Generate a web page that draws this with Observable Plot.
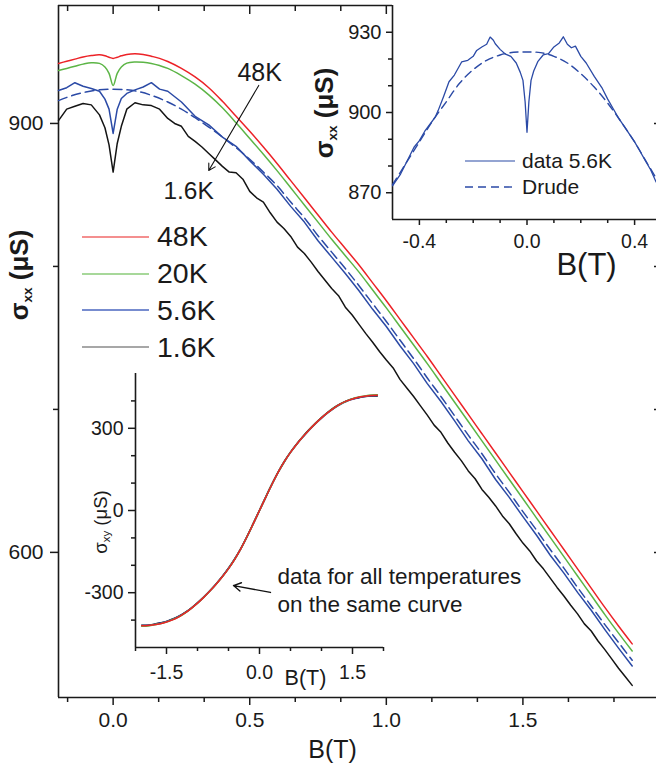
<!DOCTYPE html>
<html>
<head>
<meta charset="utf-8">
<script src="https://cdn.jsdelivr.net/npm/d3@7"></script>
<script src="https://cdn.jsdelivr.net/npm/@observablehq/plot@0.6"></script>
<style>
html, body { margin:0; padding:0; background:#fff; overflow:hidden; }
#wrap { position:relative; width:656px; height:769px; overflow:hidden; font-family:"Liberation Sans", Arial, Helvetica, sans-serif; color:#1a1a1a; }
.layer { position:absolute; }
.rot { position:absolute; transform: translate(-50%,-50%) rotate(-90deg); white-space:nowrap; line-height:1; }
.leg { position:absolute; }
.leg .row { display:flex; align-items:center; white-space:nowrap; }
.leg svg { display:block; }
</style>
</head>
<body>
<div id="wrap"></div>
<script>
// ---------------- data ----------------
const temps = ["48K", "20K", "5.6K", "1.6K"];

// main panel: sigma_xx (uS) vs B (T)
const B_main = [-0.2,-0.17,-0.14,-0.11,-0.08,-0.05,-0.03,-0.015,0,0.015,0.03,0.05,0.08,0.11,0.14,0.17,0.2,
  0.25,0.3,0.35,0.4,0.45,0.5,0.55,0.6,0.65,0.7,0.75,0.8,0.85,0.9,0.95,1.0,1.05,1.1,1.15,1.2,1.25,1.3,1.35,1.4,1.45,1.5,1.55,1.6,1.65,1.7,1.75,1.8,1.85,1.9];
const s48 = [942,943.5,945,946.5,947.5,948,947.3,946.3,945.5,946.3,947.3,948.3,948.8,948.3,947,945.5,943.3,
  938.5,932.5,925,915.5,905,894.5,883.5,872,860,848,836,824,812.5,801,788.5,776,763,750,737,723.5,710,696.5,683,669.5,656,642.5,629,615.5,602,588.5,575,561.5,548.5,536];
const s20 = [937,938.5,940,941.5,942.5,942,939.5,935,926.5,935,939.5,942.2,943,942.8,942,940.5,938.5,
  933.5,927.5,920,911,900.5,889.5,878.5,867,855,843,831,819,807.5,796,783.5,771,758,745,732,718.5,705,691.5,678,664.5,651,637.5,624,610.5,597,583.5,570,556.5,543.5,531];
const s56 = [923,925,928.5,926,924.5,922.5,917,910,893,910,917.5,921,923.5,925.5,928.5,924,922.5,
  915,905,899,890.5,884,874,864.5,854,842,831,818,806.5,795,783,770,758,744.5,732,718,705.5,692,678,665.5,651,638.5,625,612,598,585.5,572,559.5,546,533,520.5];
const B_black = [-0.2,-0.17,-0.14,-0.11,-0.08,-0.05,-0.03,-0.015,0,0.015,0.03,0.05,0.08,0.11,0.14,0.17,0.2,
  0.225,0.25,0.275,0.3,0.325,0.35,0.375,0.4,0.425,0.45,0.475,0.5,
  0.525,0.55,0.575,0.6,0.625,0.65,0.675,0.7,0.725,0.75,0.775,0.8,
  0.825,0.85,0.875,0.9,0.925,0.95,0.975,1.0,1.025,1.05,1.075,1.1,
  1.125,1.15,1.175,1.2,1.225,1.25,1.275,1.3,1.325,1.35,1.375,1.4,
  1.425,1.45,1.475,1.5,1.525,1.55,1.575,1.6,1.625,1.65,1.675,1.7,
  1.725,1.75,1.775,1.8,1.825,1.85,1.875,1.9];
const s16 = [902,910,912,914,913,906,897,885,866,886,898,910,914.5,913,912.5,910,903.5,
  900,898,891,887.5,883.5,879,874.5,870,866,865.5,861,852.5,
  848,845,837.5,831,826.5,821,813.5,809,803,796.5,790.5,784.5,
  779.5,771.5,766,759.5,753,747,740.5,734.5,729,721,715,709,
  702.5,696,689,684,676.5,670,664,657,651.5,644,638.5,632.5,
  625.5,620,613,606.5,601,594,588.5,582,575.5,569.5,563,557,
  550,545,538,532,525.5,519,513,507];
const B_drude = [-0.2,-0.15,-0.1,-0.05,0,0.05,0.1,0.15,0.2,0.25,0.3,0.35,0.4,0.45,0.5,0.55,0.6,0.65,0.7,0.75,0.8,0.85,0.9,0.95,1.0,1.05,1.1,1.15,1.2,1.25,1.3,1.35,1.4,1.45,1.5,1.55,1.6,1.65,1.7,1.75,1.8,1.85,1.9];
const sDrude = [916,919.5,922,923.5,924,923.5,922,919,915,910,904,897.5,890.5,883,875,866,856.5,845,834,821.5,810,798.5,786.5,774,761.5,748.5,735.5,722,709,695.5,682,669,655,642,628.5,615.5,602,589,575.5,562.5,549.5,537,524.5];

// upper-right inset: 5.6K data and Drude fit
const B_in = [-0.5,-0.47,-0.44,-0.42,-0.4,-0.38,-0.36,-0.34,-0.33,-0.31,-0.29,-0.27,-0.243,-0.22,-0.2,-0.187,-0.168,-0.15,-0.137,-0.125,
  -0.118,-0.1,-0.08,-0.06,-0.04,-0.025,-0.015,-0.007,0,0.007,0.015,0.025,0.04,0.06,0.08,0.1,0.12,0.135,0.15,0.165,
  0.18,0.2,0.22,0.25,0.28,0.3,0.32,0.34,0.36,0.38,0.4,0.42,0.44,0.46,0.48];
const s_in = [872.6,877,883,887,889.5,893,895.7,898.5,900.8,906,911.5,914,918.9,919.5,921,923.2,924.5,925.5,928.2,927,
  925.7,923.6,921.8,921,918.5,915,912,904,892.6,904,912,915.5,919,921.5,922,924.5,926,928.3,925.5,924.2,
  924.8,921,918.5,913.5,909,905,901.5,898,895,892,889,885.5,882,878.5,874];
const B_inDrude = [-0.5,-0.45,-0.4,-0.35,-0.3,-0.25,-0.2,-0.15,-0.1,-0.05,0,0.05,0.1,0.15,0.2,0.25,0.3,0.35,0.4,0.45,0.48];
const s_inDrude = [873,881,889,897,904,911,916,919.5,921.5,922.5,922.6,922.4,921,918.5,914.5,909.5,903.5,896.5,889,880.5,875.5];

// lower inset: sigma_xy (uS) vs B (T)
const B_hall = [-1.9,-1.8,-1.7,-1.6,-1.5,-1.4,-1.3,-1.2,-1.1,-1.0,-0.9,-0.8,-0.7,-0.6,-0.5,-0.4,-0.3,-0.2,-0.1,0,
  0.1,0.2,0.3,0.4,0.5,0.6,0.7,0.8,0.9,1.0,1.1,1.2,1.3,1.4,1.5,1.6,1.7,1.8,1.9];
const hall48 = [-421,-420,-417,-413,-407,-399,-388,-374,-357,-338,-317,-294,-269,-242,-212,-178,-139,-95,-48,0,48,95,139,178,212,242,269,294,317,338,357,374,388,399,407,413,417,420,421];
const hall20 = [-422,-421,-417,-413,-407,-398,-388,-374,-357,-338,-317,-294,-269,-242,-212,-178,-139,-95,-48,0,48,95,139,178,212,242,269,294,317,338,357,374,388,399,408,414,418,421,422];
const hall56 = [-420,-419,-416,-411,-405,-397,-386,-373,-356,-337,-316,-293,-268,-241,-211,-177,-139,-95,-48,0,48,95,139,178,212,242,268,293,316,337,356,373,387,398,406,412,416,419,420];
const hall16 = [-419,-419,-415,-410,-405,-396,-386,-372,-356,-337,-316,-293,-268,-241,-211,-177,-138,-94,-47,1,49,96,140,179,213,243,270,295,318,339,358,375,389,400,408,412,416,418,418];

// axes / ticks
const xMainDomain = [-0.2, 2.0];
const yMainDomain = [498.5, 982.5];
const insetEdgeB = 1.0227;              // where the upper inset begins, in main-panel B units
const mainXMajor = [0, 0.5, 1.0, 1.5];
const mainXMinor = [-1/6, 1/6, 1/3, 2/3, 5/6, 7/6, 4/3, 5/3, 11/6];
const mainYMajor = [900, 600];
const mainYMinor = [800, 700];
const inXDomain = [-0.5, 0.5];
const inYDomain = [860, 940];
const inXMajor = [-0.4, 0, 0.4];
const inXMinor = [-0.3, -0.2, -0.1, 0.1, 0.2, 0.3];
const inYMajor = [930, 900, 870];
const inYMinor = [920, 910, 890, 880];
const hXDomain = [-2, 2];
const hYDomain = [-500, 500];
const hXMajor = [-1.5, 0, 1.5];
const hXMinor = [-2, -1, -0.5, 0.5, 1, 2];
const hYMajor = [-300, 0, 300];
const hYMinor = [-400, -200, -100, 100, 200, 400];

// annotations (data units)
const ann48 = {x: 0.455, y: 930, text: "48K"};
const ann16 = {x: 0.184, y: 847.5, text: "1.6K"};
const annArrow = [{x1: 0.533, y1: 926.6, x2: 0.350, y2: 867.1}];
const hallNote = [{x: 0.29, y: -267, text: "data for all temperatures"}, {x: 0.29, y: -369, text: "on the same curve"}];
const hallArrow = [{x1: 0.177, y1: -299, x2: -0.419, y2: -274}];

// ---------------- drawing ----------------
const FONT = '"Liberation Sans", Arial, Helvetica, sans-serif';
const colors = {"48K": "#ec2227", "20K": "#5cb546", "5.6K": "#2b4aa6", "1.6K": "#141414"};
const legendColors = {"48K": "#f06a6a", "20K": "#8acb78", "5.6K": "#4a66bf", "1.6K": "#8a8a8a"};
const pts = (xs, ys) => xs.map((x, i) => ({x, y: ys[i]}));
const fmt1 = d => d.toFixed(1);
const fmt0 = d => String(d);
const blank = () => "";
const wrap = document.getElementById("wrap");
function addLayer(node, left, top) {
  const d = document.createElement("div");
  d.className = "layer"; d.style.left = left + "px"; d.style.top = top + "px";
  d.appendChild(node); wrap.appendChild(d); return d;
}
const baseStyle = {fontFamily: FONT, background: "none", overflow: "visible", color: "#1a1a1a"};

const mainPlot = Plot.plot({
  width: 656, height: 769,
  marginLeft: 58, marginRight: -3, marginTop: 5, marginBottom: 72,
  x: {domain: xMainDomain, label: null},
  y: {domain: yMainDomain, label: null},
  style: baseStyle,
  marks: [
    Plot.axisX(mainXMajor, {anchor: "bottom", tickSize: 8, tickPadding: 7, tickFormat: fmt1, fontSize: 21, strokeWidth: 1.5, label: null}),
    Plot.axisX(mainXMinor, {anchor: "bottom", tickSize: 5, tickFormat: blank, strokeWidth: 1.5, label: null}),
    Plot.axisX(mainXMajor.filter(d => d < insetEdgeB), {anchor: "top", tickSize: -8, tickFormat: blank, strokeWidth: 1.5, label: null}),
    Plot.axisX(mainXMinor.filter(d => d < insetEdgeB), {anchor: "top", tickSize: -5, tickFormat: blank, strokeWidth: 1.5, label: null}),
    Plot.axisY(mainYMajor, {anchor: "left", tickSize: 8, tickPadding: 7, tickFormat: fmt0, fontSize: 21, strokeWidth: 1.5, label: null}),
    Plot.axisY(mainYMinor, {anchor: "left", tickSize: 5, tickFormat: blank, strokeWidth: 1.5, label: null}),
    Plot.axisY(mainYMajor.concat(mainYMinor), {anchor: "right", tickSize: -6, tickFormat: blank, strokeWidth: 1.5, label: null}),
    Plot.ruleX([xMainDomain[0]], {strokeWidth: 1.6}),
    Plot.ruleY([yMainDomain[0]], {strokeWidth: 1.6}),
    Plot.ruleY([yMainDomain[1]], {x1: xMainDomain[0], x2: insetEdgeB, strokeWidth: 1.6}),
    Plot.line(pts(B_black, s16), {x: "x", y: "y", stroke: colors["1.6K"], strokeWidth: 1.5}),
    Plot.line(pts(B_main, s56), {x: "x", y: "y", stroke: colors["5.6K"], strokeWidth: 1.5}),
    Plot.line(pts(B_drude, sDrude), {x: "x", y: "y", stroke: colors["5.6K"], strokeWidth: 1.5, strokeDasharray: "9,5", curve: "catmull-rom"}),
    Plot.line(pts(B_main, s20), {x: "x", y: "y", stroke: colors["20K"], strokeWidth: 1.5, curve: "catmull-rom"}),
    Plot.line(pts(B_main, s48), {x: "x", y: "y", stroke: colors["48K"], strokeWidth: 1.5, curve: "catmull-rom"}),
    Plot.text([ann48], {x: "x", y: "y", text: "text", textAnchor: "start", lineAnchor: "bottom", fontSize: 25}),
    Plot.text([ann16], {x: "x", y: "y", text: "text", textAnchor: "start", lineAnchor: "bottom", fontSize: 24.5}),
    Plot.arrow(annArrow, {x1: "x1", y1: "y1", x2: "x2", y2: "y2", stroke: "#111", strokeWidth: 1.1, headLength: 10}),
    Plot.text(["B(T)"], {frameAnchor: "bottom-left", dx: 274, dy: 60, textAnchor: "middle", lineAnchor: "bottom", fontSize: 25})
  ]
});
addLayer(mainPlot, 0, 0);

// upper-right inset
const inset1 = Plot.plot({
  width: 356, height: 290,
  marginLeft: 92, marginRight: -5, marginTop: 5, marginBottom: 71,
  x: {domain: inXDomain, label: null},
  y: {domain: inYDomain, label: null},
  style: baseStyle,
  marks: [
    Plot.axisX(inXMajor, {anchor: "bottom", tickSize: 6, tickPadding: 9, tickFormat: fmt1, fontSize: 19.5, strokeWidth: 1.5, label: null}),
    Plot.axisX(inXMinor, {anchor: "bottom", tickSize: 4, tickFormat: blank, strokeWidth: 1.5, label: null}),
    Plot.axisY(inYMajor, {anchor: "left", tickSize: 6, tickPadding: 5, tickFormat: fmt0, fontSize: 20, strokeWidth: 1.5, label: null}),
    Plot.axisY(inYMinor, {anchor: "left", tickSize: 4, tickFormat: blank, strokeWidth: 1.5, label: null}),
    Plot.ruleX([inXDomain[0]], {strokeWidth: 1.6}),
    Plot.ruleY([inYDomain[0]], {strokeWidth: 1.6}),
    Plot.line(pts(B_inDrude, s_inDrude), {x: "x", y: "y", stroke: colors["5.6K"], strokeWidth: 1.4, strokeDasharray: "8,5", curve: "catmull-rom"}),
    Plot.line(pts(B_in, s_in), {x: "x", y: "y", stroke: colors["5.6K"], strokeWidth: 1.3}),
    Plot.text(["B(T)"], {frameAnchor: "bottom-left", dx: 194, dy: 55, textAnchor: "middle", lineAnchor: "bottom", fontSize: 31})
  ]
});
addLayer(inset1, 300, 0);

// lower inset (Hall)
const inset2 = Plot.plot({
  width: 500, height: 340,
  marginLeft: 75, marginRight: 177, marginTop: 13, marginBottom: 53,
  x: {domain: hXDomain, label: null},
  y: {domain: hYDomain, label: null},
  style: baseStyle,
  marks: [
    Plot.axisX(hXMajor, {anchor: "bottom", tickSize: 7, tickPadding: 11, tickFormat: fmt1, fontSize: 19.5, strokeWidth: 1.5, label: null}),
    Plot.axisX(hXMinor, {anchor: "bottom", tickSize: 4, tickFormat: blank, strokeWidth: 1.5, label: null}),
    Plot.axisY(hYMajor, {anchor: "left", tickSize: 7, tickPadding: 5, tickFormat: fmt0, fontSize: 19.5, strokeWidth: 1.5, label: null}),
    Plot.axisY(hYMinor, {anchor: "left", tickSize: 4, tickFormat: blank, strokeWidth: 1.5, label: null}),
    Plot.ruleX([hXDomain[0]], {strokeWidth: 1.6}),
    Plot.ruleY([hYDomain[0]], {strokeWidth: 1.6}),
    Plot.line(pts(B_hall, hall16), {x: "x", y: "y", stroke: colors["1.6K"], strokeWidth: 1.6, curve: "catmull-rom"}),
    Plot.line(pts(B_hall, hall56), {x: "x", y: "y", stroke: colors["5.6K"], strokeWidth: 1.6, curve: "catmull-rom"}),
    Plot.line(pts(B_hall, hall20), {x: "x", y: "y", stroke: colors["20K"], strokeWidth: 1.6, curve: "catmull-rom"}),
    Plot.line(pts(B_hall, hall48), {x: "x", y: "y", stroke: colors["48K"], strokeWidth: 1.5, curve: "catmull-rom"}),
    Plot.text(hallNote, {x: "x", y: "y", text: "text", textAnchor: "start", lineAnchor: "bottom", fontSize: 22.5}),
    Plot.arrow(hallArrow, {x1: "x1", y1: "y1", x2: "x2", y2: "y2", stroke: "#111", strokeWidth: 1.4, headLength: 9}),
    Plot.text(["B(T)"], {frameAnchor: "bottom-left", dx: 170, dy: 37, textAnchor: "middle", lineAnchor: "bottom", fontSize: 21.5})
  ]
});
addLayer(inset2, 60, 360);

// rotated y titles (with subscripts)
function rotTitle(html, cx, cy, size, weight) {
  const d = document.createElement("div");
  d.className = "rot";
  d.style.left = cx + "px"; d.style.top = cy + "px";
  d.style.fontSize = size + "px"; d.style.fontWeight = weight;
  d.innerHTML = html;
  wrap.appendChild(d);
}
rotTitle('σ<span style="font-size:0.52em;position:relative;top:0.32em">xx</span> (μS)', 19, 275, 26, "bold");
rotTitle('σ<span style="font-size:0.52em;position:relative;top:0.32em">xx</span> (μS)', 324, 113, 26, "bold");
rotTitle('σ<span style="font-size:0.62em;position:relative;top:0.3em">xy</span> (μS)', 101, 522, 18.5, "normal");

// legends
function legend(items, left, cy0, rowH, lineW, gap, fontSize) {
  const box = document.createElement("div");
  box.className = "leg";
  box.style.left = left + "px";
  box.style.top = (cy0 - rowH / 2) + "px";
  items.forEach(it => {
    const row = document.createElement("div");
    row.className = "row"; row.style.height = rowH + "px";
    const svg = d3.create("svg").attr("width", lineW).attr("height", 4);
    svg.append("line").attr("x1", 0).attr("x2", lineW).attr("y1", 2).attr("y2", 2)
      .attr("stroke", it.color).attr("stroke-width", it.width).attr("stroke-dasharray", it.dash || null);
    row.appendChild(svg.node());
    const sp = document.createElement("span");
    sp.textContent = it.label; sp.style.fontSize = fontSize + "px"; sp.style.marginLeft = gap + "px";
    row.appendChild(sp);
    box.appendChild(row);
  });
  wrap.appendChild(box);
}
legend(temps.map(t => ({label: t, color: legendColors[t], width: 1.3})), 82, 237, 36.7, 67, 8, 28.5);
legend([{label: "data 5.6K", color: colors["5.6K"], width: 1.2}, {label: "Drude", color: colors["5.6K"], width: 1.4, dash: "8,5"}], 465, 161, 26, 50, 7, 21);
</script>
</body>
</html>
